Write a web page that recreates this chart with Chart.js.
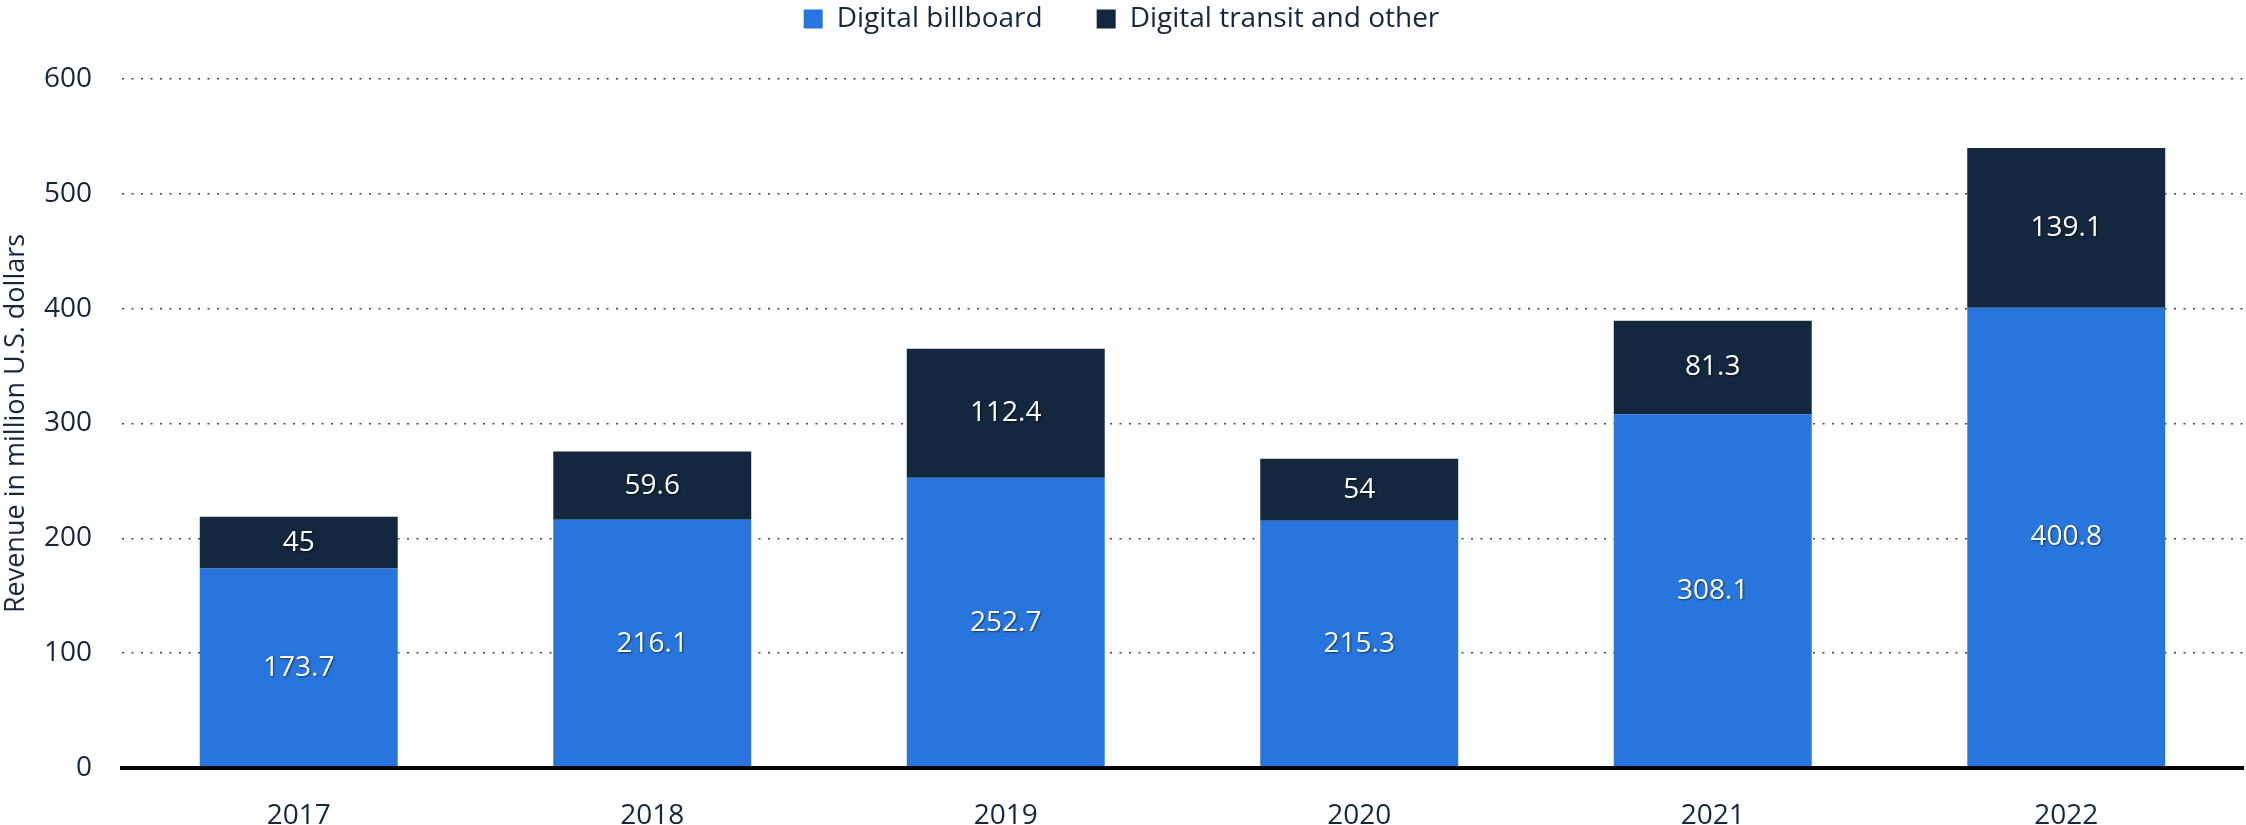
<!DOCTYPE html>
<html>
<head>
<meta charset="utf-8">
<script src="https://cdn.jsdelivr.net/npm/chart.js@4"></script>
<style>
  html, body { margin: 0; padding: 0; background: #fff; }
  #wrap { width: 2246px; height: 825px; }
</style>
</head>
<body>
<div id="wrap"><canvas id="chart_revenue"></canvas></div>
<script>
// data
const years = ['2017', '2018', '2019', '2020', '2021', '2022'];
const billboard = [173.7, 216.1, 252.7, 215.3, 308.1, 400.8];
const transit = [45, 59.6, 112.4, 54, 81.3, 139.1];
const seriesNames = ['Digital billboard', 'Digital transit and other'];
const yTicks = [0, 100, 200, 300, 400, 500, 600];

const BLUE = '#2876dd';
const NAVY = '#13273e';
const TEXT = '#15273e';

// white labels in the middle of every segment
const segmentLabels = {
  id: 'segmentLabels',
  afterDatasetsDraw(chart) {
    const ctx = chart.ctx;
    ctx.save();
    ctx.font = '28px "Open Sans"';
    ctx.fillStyle = '#fff';
    ctx.textAlign = 'center';
    ctx.textBaseline = 'middle';
    ctx.shadowColor = 'rgba(0,0,0,0.55)';
    ctx.shadowBlur = 2;
    ctx.shadowOffsetX = 1;
    ctx.shadowOffsetY = 1;
    chart.data.datasets.forEach((ds, i) => {
      chart.getDatasetMeta(i).data.forEach((bar, j) => {
        const yc = (bar.y + bar.base) / 2;
        ctx.fillText(String(ds.data[j]), bar.x, yc);
      });
    });
    ctx.restore();
  }
};

// fix the legend height so the plot starts where it does in the picture
const legendHeight = {
  id: 'legendHeight',
  beforeInit(chart) {
    const lg = chart.legend;
    if (!lg) return;
    const fit = lg.fit;
    lg.fit = function () { fit.call(this); this.height = 128; };
  }
};

const ctx_r = document.getElementById('chart_revenue').getContext('2d');
const chart_revenue = new Chart(ctx_r, {
  type: 'bar',
  data: {
    labels: years,
    datasets: [{
      label: seriesNames[0],
      data: billboard,
      backgroundColor: BLUE,
      borderWidth: 0
    }, {
      label: seriesNames[1],
      data: transit,
      backgroundColor: NAVY,
      borderWidth: 0
    }]
  },
  options: {
    responsive: true,
    maintainAspectRatio: false,
    animation: false,
    layout: { padding: { top: -49, left: 0, right: 3, bottom: 0 } },
    datasets: {
      bar: { categoryPercentage: 1, barPercentage: 0.56 }
    },
    plugins: {
      tooltip: { enabled: false },
      legend: {
        position: 'top',
        align: 'center',
        labels: {
          boxWidth: 19,
          boxHeight: 19,
          padding: 54,
          color: TEXT,
          font: { family: 'Open Sans', size: 28 }
        }
      }
    },
    scales: {
      x: {
        stacked: true,
        grid: { display: false, drawTicks: false },
        border: { display: true, color: '#000', width: 4, z: 2 },
        ticks: {
          color: TEXT,
          padding: 31,
          font: { family: 'Open Sans', size: 28 }
        },
        afterFit(s) { s.height = 57; }
      },
      y: {
        stacked: true,
        min: 0,
        max: 600,
        afterBuildTicks(s) { s.ticks = yTicks.map(v => ({ value: v })); },
        grid: {
          color: '#444',
          lineWidth: 1.5,
          drawTicks: false
        },
        border: { display: false, dash: [2, 7.5] },
        ticks: {
          color: TEXT,
          padding: 30,
          font: { family: 'Open Sans', size: 28 }
        },
        title: {
          display: true,
          text: 'Revenue in million U.S. dollars',
          color: TEXT,
          padding: { top: 0, bottom: 0 },
          font: { family: 'Open Sans', size: 27 }
        },
        afterFit(s) { s.width = 122; }
      }
    }
  },
  plugins: [legendHeight, segmentLabels]
});
</script>
</body>
</html>
